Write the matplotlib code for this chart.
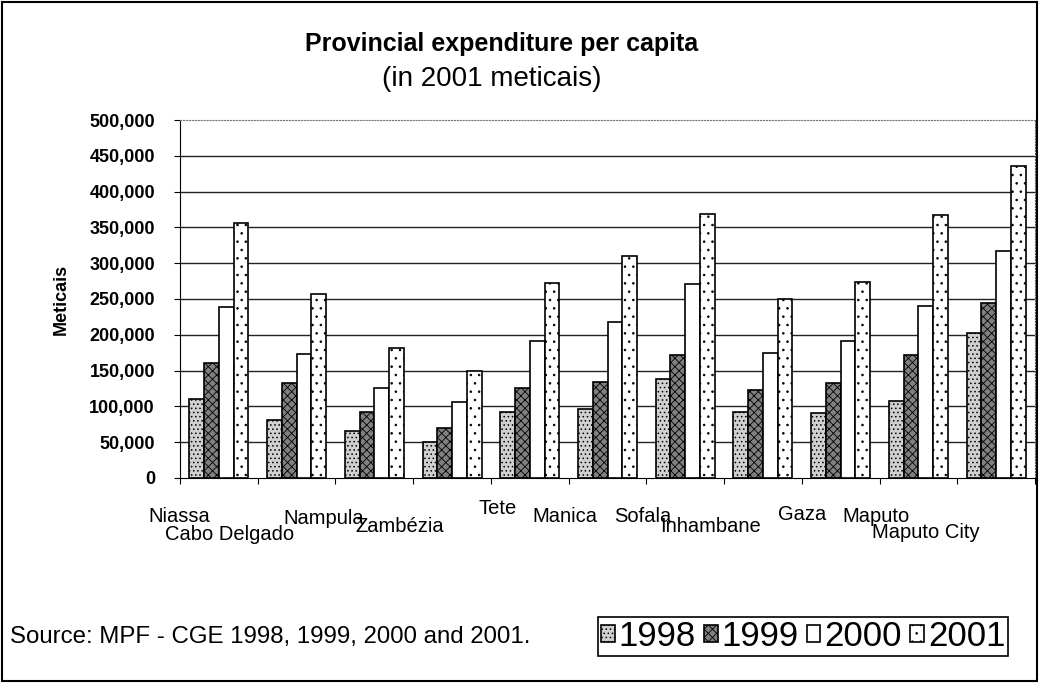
import numpy as np
import matplotlib
matplotlib.use('Agg')
import matplotlib.pyplot as plt
from matplotlib.patches import Rectangle
from matplotlib.ticker import FuncFormatter, MultipleLocator
import matplotlib.transforms as mtransforms

plt.rcParams['font.family'] = ['Liberation Sans', 'DejaVu Sans']
plt.rcParams['hatch.linewidth'] = 0.6

# data (meticais per capita)
provinces = ['Niassa', 'Cabo Delgado', 'Nampula', 'Zambézia', 'Tete', 'Manica',
             'Sofala', 'Inhambane', 'Gaza', 'Maputo', 'Maputo City']
years = ['1998', '1999', '2000', '2001']
y1998 = [111000, 81000, 66000, 50000, 92000, 96000, 138000, 92000, 91000, 107000, 202000]
y1999 = [161000, 133000, 92000, 70000, 126000, 134000, 172000, 123000, 133000, 172000, 244000]
y2000 = [239000, 173000, 126000, 106000, 191000, 218000, 271000, 175000, 191000, 240000, 317000]
y2001 = [356000, 257000, 182000, 149000, 272000, 310000, 369000, 250000, 274000, 367000, 436000]

# label placement (x offset in categories, y in pixels from the top of figure)
lab_dx = [-0.51, -0.86, -0.65, -0.67, -0.42, -0.55, -0.55, -0.67, -0.49, -0.54, -0.91]
lab_py = [517, 534, 519, 526, 508, 517, 517, 526, 514, 517, 532]

W, H = 1039, 683
fig = plt.figure(figsize=(W / 100, H / 100), dpi=100)
ax = fig.add_axes([180 / W, 1 - 478 / H, 855 / W, 358 / H])

x = np.arange(len(provinces))
bw = 0.19
styles = [
    dict(facecolor='#d0d0d0', hatch='....'),
    dict(facecolor='#808080', hatch='xxxx'),
    dict(facecolor='white', hatch=None),
    dict(facecolor='white', hatch='..'),
]
series = [y1998, y1999, y2000, y2001]
bars = []
for k, (vals, st) in enumerate(zip(series, styles)):
    b = ax.bar(x + (k - 1.5) * bw, vals, width=bw, edgecolor='black',
               linewidth=1.2, label=years[k], zorder=3, **st)
    bars.append(b)

ax.set_xlim(-0.5, len(provinces) - 0.5)
ax.set_ylim(0, 500000)
ax.yaxis.set_major_locator(MultipleLocator(50000))
ax.yaxis.set_major_formatter(FuncFormatter(lambda v, p: f'{int(v):,}'))
ax.tick_params(axis='y', labelsize=13, direction='out', length=4, pad=14)
ax.set_xticks(np.arange(-0.5, len(provinces)))
ax.set_xticklabels([])
ax.tick_params(axis='x', direction='out', length=4)
for lbl in ax.get_yticklabels():
    lbl.set_fontweight('bold')

# gridlines
for gv in range(50000, 500000, 50000):
    ax.axhline(gv, color='#222222', linewidth=1, zorder=1)

ax.spines['top'].set_linestyle(':')
ax.spines['top'].set_color('#777777')
ax.spines['right'].set_linestyle(':')
ax.spines['right'].set_color('#555555')

ax.set_ylabel('Meticais', fontsize=13, fontweight='bold', labelpad=14)

# staggered category labels (Excel-style, overlapping as in the original)
trans = mtransforms.blended_transform_factory(ax.transData, fig.transFigure)
for i, name in enumerate(provinces):
    ax.text(x[i] + lab_dx[i], 1 - lab_py[i] / H, name, transform=trans,
            ha='center', va='center', fontsize=14.5, clip_on=False)

fig.text(502 / W, 1 - 44 / H, 'Provincial expenditure per capita',
         ha='center', va='center', fontsize=18, fontweight='bold')
fig.text(492 / W, 1 - 79 / H, '(in 2001 meticais)',
         ha='center', va='center', fontsize=20)

fig.text(10 / W, 1 - 637 / H, 'Source: MPF - CGE 1998, 1999, 2000 and 2001.',
         ha='left', va='center', fontsize=17.3)

leg = fig.legend(handles=bars, labels=years, loc='upper left',
                 bbox_to_anchor=(598 / W, 1 - 617 / H), ncol=4, fontsize=25,
                 frameon=True, fancybox=False, edgecolor='black', framealpha=1,
                 handlelength=0.4, handleheight=0.4, handletextpad=0.12,
                 columnspacing=0.22, borderpad=0.08, borderaxespad=0)
leg.get_frame().set_linewidth(1.2)

# outer border of the figure
fig.patches.append(Rectangle((2 / W, 2 / H), 1 - 4 / W, 1 - 4 / H,
                             transform=fig.transFigure, fill=False,
                             edgecolor='black', linewidth=1.5))

fig.savefig('out.png', dpi=100)
